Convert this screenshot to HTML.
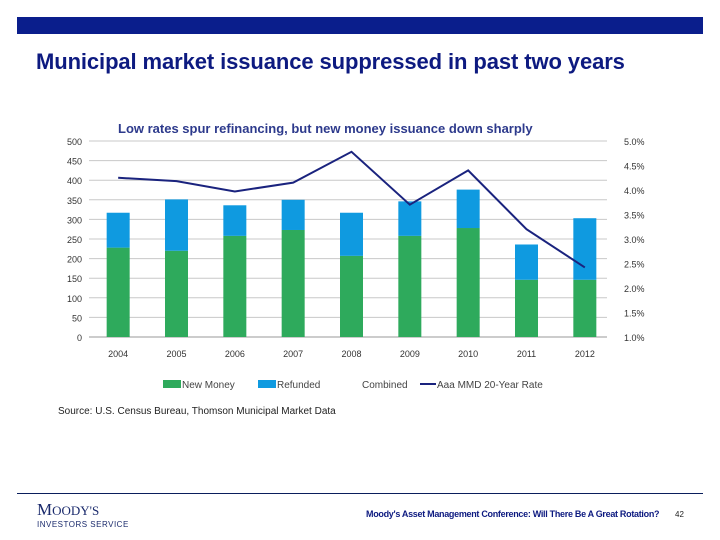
<!DOCTYPE html>
<html><head><meta charset="utf-8"><style>
body{margin:0;width:720px;height:540px;background:#fff;font-family:"Liberation Sans",sans-serif;position:relative;overflow:hidden}
.a{position:absolute}
</style></head><body>
<div class="a" style="left:17px;top:17px;width:686px;height:17px;background:#0a1e8c"></div>
<div class="a" style="left:36px;top:49px;font-size:22px;font-weight:bold;color:#0d1a80;letter-spacing:-0.1px">Municipal market issuance suppressed in past two years</div>
<svg class="a" style="left:0;top:0" width="720" height="540">
<text x="118" y="133" font-size="13" font-weight="bold" fill="#2d3a8c" font-family="Liberation Sans">Low rates spur refinancing, but new money issuance down sharply</text>
<g id="g"></g>
</svg>
<div class="a" style="left:58px;top:406px;font-size:10px;color:#222">Source: U.S. Census Bureau, Thomson Municipal Market Data</div>
<div class="a" style="left:17px;top:493px;width:686px;height:1px;background:#0a1e5c"></div>
<div class="a" style="left:37px;top:500px;font-family:'Liberation Serif',serif;font-size:17px;color:#1a2a6c">M<span style="font-size:13px">OODY'S</span></div>
<div class="a" style="left:37px;top:520px;font-size:8px;color:#1a2a6c;letter-spacing:0.5px">INVESTORS SERVICE</div>
<div class="a" style="left:366px;top:509px;font-size:9px;font-weight:bold;color:#0d1a80;letter-spacing:-0.3px">Moody's Asset Management Conference: Will There Be A Great Rotation?</div>
<div class="a" style="left:675px;top:510px;font-size:8px;color:#222">42</div>
<script>
const years=["2004","2005","2006","2007","2008","2009","2010","2011","2012"];
const newMoney=[228,220,258,273,207,258,278,146,146];
const refunded=[89,131,78,77,110,88,98,90,157];
const rate=[4.25,4.18,3.97,4.15,4.78,3.70,4.40,3.20,2.42];
const leftTicks=[0,50,100,150,200,250,300,350,400,450,500];
const rightTicks=["1.0%","1.5%","2.0%","2.5%","3.0%","3.5%","4.0%","4.5%","5.0%"];
const NS="http://www.w3.org/2000/svg",g=document.getElementById('g');
const X0=89,X1=614,Y0=337,Y1=141;
const y=v=>Y0-(v/500)*(Y0-Y1);
const yr=v=>Y0-((v-1)/4)*(Y0-Y1);
const step=(X1-X0)/years.length;
const xc=i=>X0+step*(i+0.5);
function mk(t,a){const e=document.createElementNS(NS,t);for(const k in a)e.setAttribute(k,a[k]);g.appendChild(e);return e;}
leftTicks.forEach(v=>{
 const l=mk('line',{x1:X0,x2:607,y1:y(v),y2:y(v),stroke:v==0?'#999':'#c8c8c8','stroke-width':1});
 
 
 const t=mk('text',{x:82,y:y(v)+4,'text-anchor':'end','font-size':9,fill:'#333'});t.textContent=v;
 
 
});
rightTicks.forEach((s,i)=>{
 const t=mk('text',{x:624,y:yr(1+i*0.5)+4,'font-size':9,fill:'#333'});t.textContent=s;
 
 
});
const bw=23;
years.forEach((yy,i)=>{
 const b1=mk('rect',{x:xc(i)-bw/2,y:y(newMoney[i]),width:bw,height:y(0)-y(newMoney[i]),fill:'#2eaa5c'});
 
 
 const tot=newMoney[i]+refunded[i];
 const b2=mk('rect',{x:xc(i)-bw/2,y:y(tot),width:bw,height:y(newMoney[i])-y(tot),fill:'#0f9ae0'});
 
 
 const t=mk('text',{x:xc(i),y:357,'text-anchor':'middle','font-size':9,fill:'#333'});t.textContent=yy;
 
 
});
const pl=mk('polyline',{points:rate.map((r,i)=>xc(i)+','+yr(r)).join(' '),fill:'none',stroke:'#1a237e','stroke-width':2});


const leg=[['rect','#2eaa5c','New Money',163],['rect','#0f9ae0','Refunded',258],['none','','Combined',362],['line','#1a237e','Aaa MMD 20-Year Rate',428]];
leg.forEach(L=>{
 if(L[0]=='rect'){const r=mk('rect',{x:L[3],y:380,width:18,height:8,fill:L[1]});}
 if(L[0]=='line'){const r=mk('line',{x1:L[3]-8,x2:L[3]+8,y1:384,y2:384,stroke:L[1],'stroke-width':2});}
 const t=mk('text',{x:L[0]=='none'?L[3]:L[3]+(L[0]=='line'?9:19),y:388,'font-size':10,fill:'#444'});t.textContent=L[2];
 
 
});
</script>
</body></html>
